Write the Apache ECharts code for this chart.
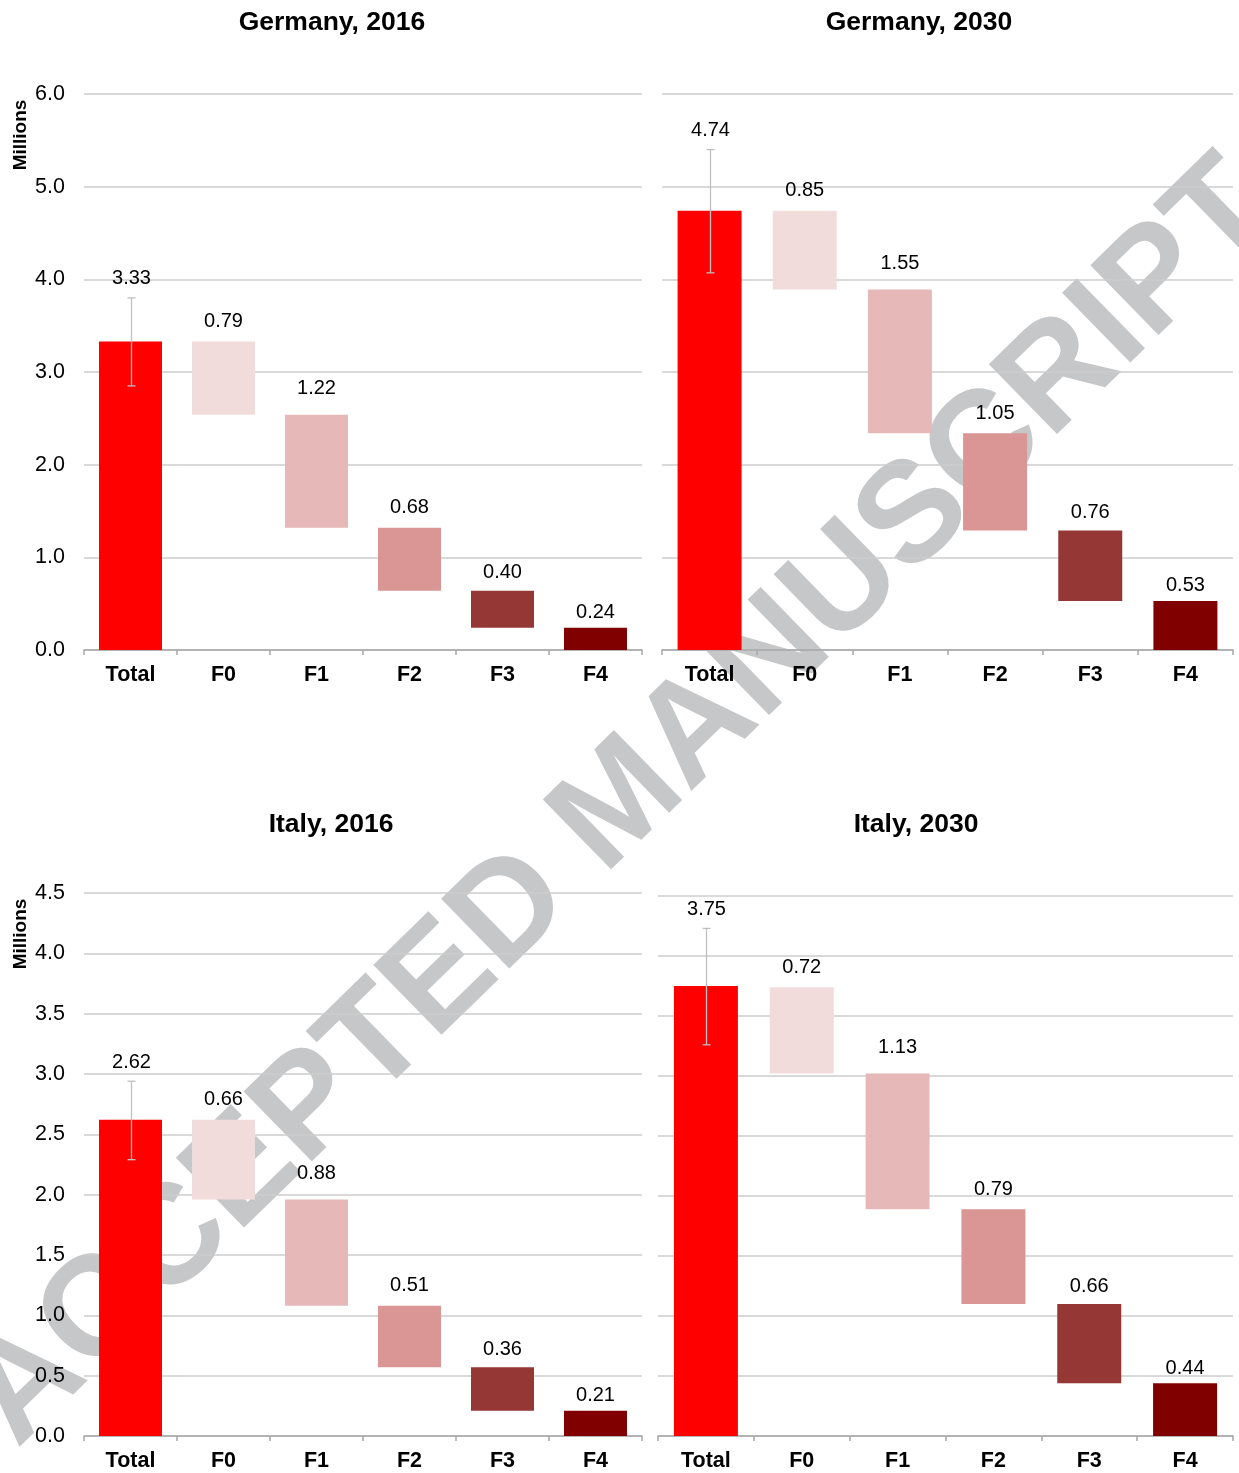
<!DOCTYPE html>
<html>
<head>
<meta charset="utf-8">
<script src="https://cdn.jsdelivr.net/npm/echarts@6/dist/echarts.min.js"></script>
<style>
  html, body { margin: 0; padding: 0; background: #ffffff; }
  #chart { width: 1239px; height: 1473px; }
</style>
</head>
<body>
<div id="chart"></div>
<script>
// Categories shared by all four waterfall panels
const categories = ['Total', 'F0', 'F1', 'F2', 'F3', 'F4'];
const panelTitles = ['Germany, 2016', 'Germany, 2030', 'Italy, 2016', 'Italy, 2030'];

// Values in millions: total first, then its breakdown F0..F4
const germany2016 = [3.33, 0.79, 1.22, 0.68, 0.40, 0.24];
const germany2030 = [4.74, 0.85, 1.55, 1.05, 0.76, 0.53];
const italy2016 = [2.62, 0.66, 0.88, 0.51, 0.36, 0.21];
const italy2030 = [3.75, 0.72, 1.13, 0.79, 0.66, 0.44];

// Uncertainty range of each total [low, high]
const germany2016Range = [2.85, 3.80];
const germany2030Range = [4.07, 5.40];
const italy2016Range = [2.29, 2.94];
const italy2030Range = [3.26, 4.23];

// Value-axis tick labels
const germanyTicks = [0, 1, 2, 3, 4, 5, 6];
const italyTicks = [0, 0.5, 1, 1.5, 2, 2.5, 3, 3.5, 4, 4.5];

const FONT = '"Liberation Sans", Arial, Helvetica, sans-serif';
const barColors = ['#FF0000', '#F2DCDB', '#E6B9B8', '#D99694', '#953735', '#800000'];
// gap between a component bar and its value label, per category
const labelGap = [0, 10, 16, 10, 8, 5];

const panels = [
  { values: germany2016, range: germany2016Range, ticks: germanyTicks, showY: true,
    grid: { left: 84, top: 94, width: 558, height: 556 }, barWidth: 63,
    title: { x: 332, y: 9 } },
  { values: germany2030, range: germany2030Range, ticks: germanyTicks, showY: false,
    grid: { left: 662, top: 94, width: 571, height: 556 }, barWidth: 64,
    title: { x: 919, y: 9 } },
  { values: italy2016, range: italy2016Range, ticks: italyTicks, showY: true,
    grid: { left: 84, top: 893, width: 558, height: 543 }, barWidth: 63,
    title: { x: 331, y: 811 } },
  { values: italy2030, range: italy2030Range, ticks: italyTicks, showY: false,
    grid: { left: 658, top: 896, width: 575, height: 540 }, barWidth: 64,
    title: { x: 916, y: 811 } }
];

// Invisible offsets that lift each component so the pieces stack down to zero
function waterfallBase(values) {
  return values.map((v, i) => {
    if (i === 0) return 0;
    let s = 0;
    for (let k = i + 1; k < values.length; k++) s += values[k];
    return +s.toFixed(4);
  });
}

function renderErrorBar(params, api) {
  const x = api.value(0);
  const lo = api.coord([x, api.value(1)]);
  const hi = api.coord([x, api.value(2)]);
  const total = api.value(3);
  const cx = Math.round(lo[0]) + 0.5;
  const cap = 4;
  const st = { stroke: '#bfbfbf', lineWidth: 1.3 };
  return {
    type: 'group',
    children: [
      { type: 'line', shape: { x1: cx, y1: lo[1], x2: cx, y2: hi[1] }, style: st },
      { type: 'line', shape: { x1: cx - cap, y1: lo[1], x2: cx + cap, y2: lo[1] }, style: st },
      { type: 'line', shape: { x1: cx - cap, y1: hi[1], x2: cx + cap, y2: hi[1] }, style: st },
      { type: 'text', x: cx, y: hi[1] - 9,
        style: { text: total.toFixed(2), font: '20px ' + FONT, fill: '#000000',
                 textAlign: 'center', textVerticalAlign: 'bottom' } }
    ]
  };
}

const grid = [], xAxis = [], yAxis = [], series = [], title = [];

panels.forEach((p, i) => {
  grid.push(Object.assign({ containLabel: false }, p.grid));
  title.push({
    text: panelTitles[i], left: p.title.x, top: p.title.y, textAlign: 'center', padding: 0,
    textStyle: { fontSize: 26.5, fontWeight: 'bold', color: '#000000', fontFamily: FONT }
  });
  xAxis.push({
    type: 'category', gridIndex: i, data: categories,
    axisLine: { lineStyle: { color: '#a6a6a6', width: 1.5 } },
    axisTick: { show: true, length: 5, alignWithLabel: false, lineStyle: { color: '#a6a6a6', width: 1.5 } },
    axisLabel: { fontSize: 21.5, fontWeight: 'bold', color: '#000000', fontFamily: FONT, margin: 14 }
  });
  const tmin = p.ticks[0], tmax = p.ticks[p.ticks.length - 1];
  yAxis.push({
    type: 'value', gridIndex: i, min: tmin, max: tmax, interval: p.ticks[1] - p.ticks[0],
    axisLine: { show: false }, axisTick: { show: false },
    axisLabel: { show: p.showY, fontSize: 21.5, color: '#000000', fontFamily: FONT, margin: 19,
                 formatter: v => v.toFixed(1) },
    splitLine: { lineStyle: { color: '#cccccc', width: 1.5 } }
  });
  series.push({
    type: 'bar', xAxisIndex: i, yAxisIndex: i, stack: 'wf' + i, silent: true,
    barWidth: p.barWidth, itemStyle: { color: 'transparent' },
    data: waterfallBase(p.values)
  });
  series.push({
    type: 'bar', xAxisIndex: i, yAxisIndex: i, stack: 'wf' + i,
    barWidth: p.barWidth,
    data: p.values.map((v, k) => ({
      value: v,
      itemStyle: { color: barColors[k] },
      label: { show: k > 0, distance: labelGap[k] }
    })),
    label: {
      position: 'top', fontSize: 20, color: '#000000', fontFamily: FONT,
      formatter: d => d.value.toFixed(2)
    }
  });
  series.push({
    type: 'custom', xAxisIndex: i, yAxisIndex: i, z: 5,
    renderItem: renderErrorBar,
    data: [[0, p.range[0], p.range[1], p.values[0]]]
  });
});

const graphic = [
  { type: 'text', x: 622, y: 804, rotation: 44.3 * Math.PI / 180, z: -10, silent: true,
    style: { text: 'ACCEPTED MANUSCRIPT', font: 'bold 142px ' + FONT, fill: '#c6c7c9',
             textAlign: 'center', textVerticalAlign: 'middle' } },
  { type: 'text', x: 21, y: 135, rotation: Math.PI / 2, silent: true,
    style: { text: 'Millions', font: 'bold 19px ' + FONT, fill: '#000000',
             textAlign: 'center', textVerticalAlign: 'middle' } },
  { type: 'text', x: 21, y: 934, rotation: Math.PI / 2, silent: true,
    style: { text: 'Millions', font: 'bold 19px ' + FONT, fill: '#000000',
             textAlign: 'center', textVerticalAlign: 'middle' } }
];

const chart = echarts.init(document.getElementById('chart'), null, { renderer: 'canvas' });
chart.setOption({
  animation: false,
  backgroundColor: '#ffffff',
  title, grid, xAxis, yAxis, series, graphic
});
</script>
</body>
</html>
